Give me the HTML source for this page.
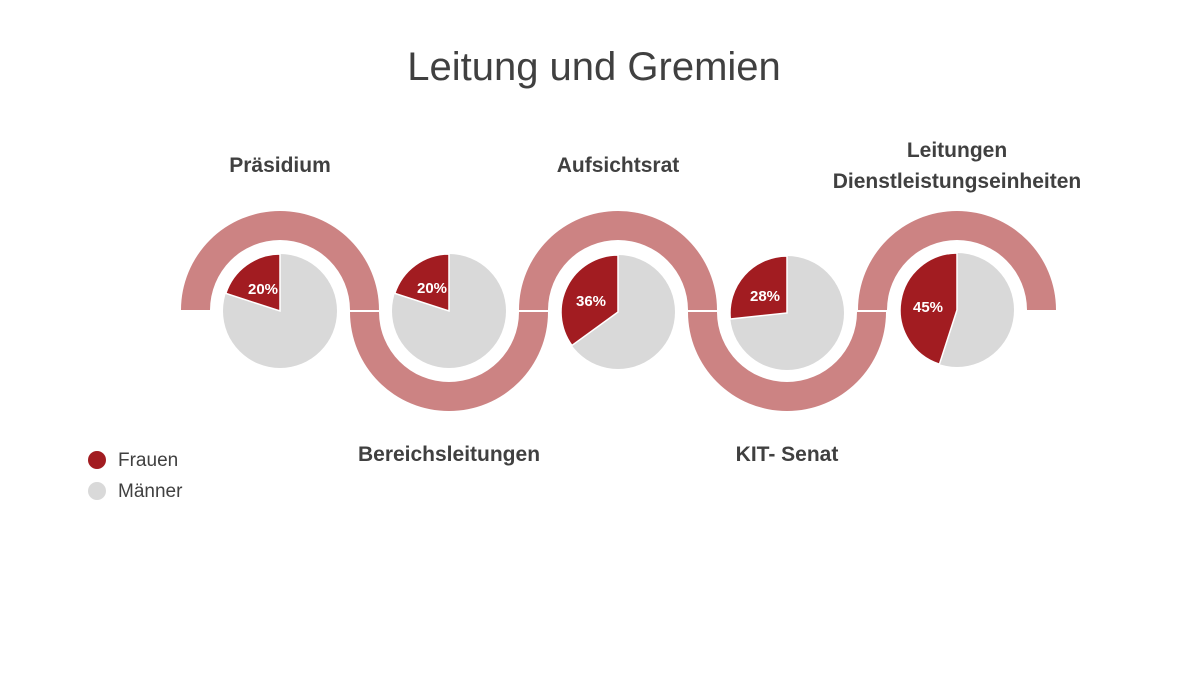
<!DOCTYPE html>
<html><head><meta charset="utf-8"><style>
html,body{margin:0;padding:0;background:#fff;}
svg{display:block;font-family:"Liberation Sans",sans-serif;}
</style></head><body>
<svg width="1200" height="675" viewBox="0 0 1200 675">
<text x="594" y="80" text-anchor="middle" font-size="40" fill="#404040">Leitung und Gremien</text>
<g fill="#cc8383">
<path d="M181,310 A99,99 0 0 1 379,310 L350,310 A70,70 0 0 0 210,310 Z"/>
<path d="M350,312 A99,99 0 0 0 548,312 L519,312 A70,70 0 0 1 379,312 Z"/>
<path d="M519,310 A99,99 0 0 1 717,310 L688,310 A70,70 0 0 0 548,310 Z"/>
<path d="M688,312 A99,99 0 0 0 886,312 L857,312 A70,70 0 0 1 717,312 Z"/>
<path d="M858,310 A99,99 0 0 1 1056,310 L1027,310 A70,70 0 0 0 887,310 Z"/>
</g>
<g>
<circle cx="280" cy="311" r="57" fill="#d9d9d9"/>
<path d="M280,311 L280,254 A57,57 0 0 0 225.8,293.4 Z" fill="#a21c21" stroke="#fff" stroke-width="1.5"/>
<circle cx="449" cy="311" r="57" fill="#d9d9d9"/>
<path d="M449,311 L449,254 A57,57 0 0 0 394.8,293.4 Z" fill="#a21c21" stroke="#fff" stroke-width="1.5"/>
<circle cx="618" cy="312" r="57" fill="#d9d9d9"/>
<path d="M618,312 L618,255 A57,57 0 0 0 571.9,345.5 Z" fill="#a21c21" stroke="#fff" stroke-width="1.5"/>
<circle cx="787" cy="313" r="57" fill="#d9d9d9"/>
<path d="M787,313 L787,256 A57,57 0 0 0 730.3,319 Z" fill="#a21c21" stroke="#fff" stroke-width="1.5"/>
<circle cx="957" cy="310" r="57" fill="#d9d9d9"/>
<path d="M957,310 L957,253 A57,57 0 0 0 939.4,364.2 Z" fill="#a21c21" stroke="#fff" stroke-width="1.5"/>
</g>
<g fill="#fff" font-weight="bold" font-size="15" text-anchor="middle">
<text x="263" y="294">20%</text>
<text x="432" y="293">20%</text>
<text x="591" y="306">36%</text>
<text x="765" y="301">28%</text>
<text x="928" y="312">45%</text>
</g>
<g fill="#404040" font-weight="bold" font-size="21" text-anchor="middle">
<text x="280" y="172">Präsidium</text>
<text x="618" y="172">Aufsichtsrat</text>
<text x="957" y="157">Leitungen</text>
<text x="957" y="188">Dienstleistungseinheiten</text>
<text x="449" y="461">Bereichsleitungen</text>
<text x="787" y="461">KIT- Senat</text>
</g>
<circle cx="97" cy="460" r="9" fill="#a21c21"/>
<circle cx="97" cy="491" r="9" fill="#d9d9d9"/>
<g fill="#404040" font-size="19">
<text x="118" y="466">Frauen</text>
<text x="118" y="497">Männer</text>
</g>
</svg>
</body></html>
